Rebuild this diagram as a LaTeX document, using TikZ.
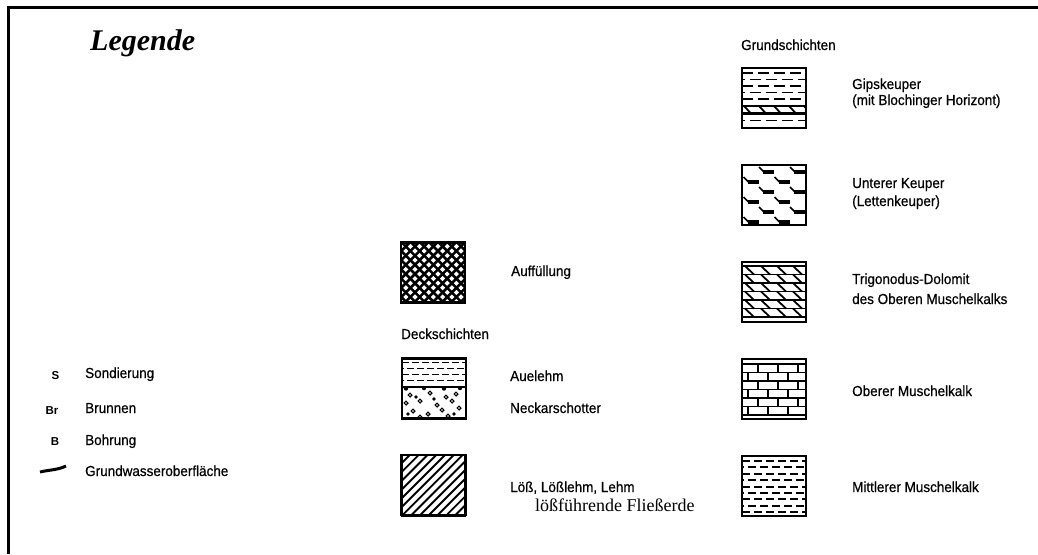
\documentclass[tikz,border=0pt]{standalone}
\usepackage{fontspec}
\setmainfont{Liberation Serif}
\setsansfont{Liberation Sans}
\newfontfamily\lblfont{Liberation Sans}[FakeBold=0.6, FakeStretch=0.93]
\begin{document}
\begin{tikzpicture}[x=1pt,y=-1pt,
  lbl/.style={font=\lblfont\fontsize{14.5}{16}\selectfont, anchor=base west, inner sep=0pt},
  symb/.style={font=\sffamily\bfseries\fontsize{11.5}{12}\selectfont, anchor=base, inner sep=0pt},
  legbox/.style={draw, line width=2.2pt, minimum width=64pt, minimum height=60pt, inner sep=0pt},
  hatch/.style={line width=2.6pt},
  thinl/.style={line width=1.5pt},
  midl/.style={line width=1.8pt},
  thickl/.style={line width=2.4pt}]
\useasboundingbox (0,0) rectangle (1038,554);
% frame
\draw[line width=3pt] (8,554) -- (8,7) -- (1038,7);

% title
\node[anchor=base west, inner sep=0pt, font=\fontsize{30}{34}\selectfont\bfseries\itshape] (title) at (90,50) {Legende};

% left list
\node[symb] (sS) at (55.5,379) {S};
\node[symb] (sBr) at (52,414) {Br};
\node[symb] (sB) at (55,445) {B};
\coordinate (gw1) at (40,472);
\coordinate (gw2) at (66,466);
\draw[line width=3pt] (gw1) .. controls (48,470) and (58,470) .. (gw2);
\node[lbl] (tS) at (85,378) {Sondierung};
\node[lbl] (tBr) at (85,413) {Brunnen};
\node[lbl] (tB) at (85,445) {Bohrung};
\node[lbl] (tGw) at (85,476) {Grundwasseroberfläche};

% middle column
\node[lbl] (tAuf) at (511,276) {Auffüllung};
\node[lbl] (tDeck) at (401,339) {Deckschichten};
\node[lbl] (tAue) at (510,381) {Auelehm};
\node[lbl] (tNeck) at (510,413) {Neckarschotter};
\node[lbl] (tLoess) at (510,492) {Löß, Lößlehm, Lehm};
\node[anchor=base west, inner sep=0pt, font=\fontsize{18}{20}\selectfont] (tFl) at (535,511) {lößführende Fließerde};

% right column
\node[lbl] (tGrund) at (741,50) {Grundschichten};
\node[lbl] (tGips1) at (852,89) {Gipskeuper};
\node[lbl] (tGips2) at (852,105) {(mit Blochinger Horizont)};
\node[lbl] (tUK1) at (852,188) {Unterer Keuper};
\node[lbl] (tUK2) at (852,206) {(Lettenkeuper)};
\node[lbl] (tTri1) at (852,284) {Trigonodus-Dolomit};
\node[lbl] (tTri2) at (852,304) {des Oberen Muschelkalks};
\node[lbl] (tOM) at (852,396) {Oberer Muschelkalk};
\node[lbl] (tMM) at (852,492) {Mittlerer Muschelkalk};

% ---------- Auffuellung: x 401-465, y 242-303
\node[legbox] (pA) at (433,272.5) {};
\begin{scope}
\clip (401,242) rectangle (465,303);
\foreach \i in {0,...,16} {
  \draw[hatch] ({401-64+\i*9.2},242) -- ++(64,64);
  \draw[hatch] ({401+\i*9.2},242) -- ++(-64,64);
}
\end{scope}

% ---------- Auelehm / Neckarschotter: x 402-466, y 358-419
\node[legbox] (pB) at (434,388.5) {};
\begin{scope}
\clip (402,358) rectangle (466,419);
\foreach \r in {0,...,3} {
  \foreach \c in {-1,...,6} {
    \pgfmathsetmacro{\xx}{402+\c*10+mod(\r,2)*5}
    \draw[thinl] (\xx,{362.5+\r*6}) -- ++(7,0);
  }
}
\draw[midl] (402,387) -- (466,387);
\foreach \p in {(406,388.5),(424,388),(444,388.5),(460,388)} \fill \p circle (2.2);
\foreach \p in {(410,395),(430,393),(446,397),(456,394),(406,403),(420,401),(437,405),(452,401),
                (413,411),(428,414),(442,410),(459,408),(420,417),(448,416)}
  \draw[line width=1.2pt] \p circle (1.9);
\foreach \p in {(416,397),(434,399),(408,414),(454,414)} \fill \p circle (1.8);
\end{scope}

% ---------- Loess: x 401-466, y 455-515
\node[legbox] (pC) at (433.5,485) {};
\begin{scope}
\clip (401,455) rectangle (466,515);
\foreach \i in {0,...,15} {
  \draw[line width=1.9pt] ({401-60+\i*8.8},515) -- ++(60,-60);
}
\end{scope}
\draw[line width=3pt] (401,515) -- (466,515);

% ---------- Gipskeuper: x 742-806, y 68-128
\node[legbox] (pD) at (774,98) {};
\begin{scope}
\clip (742,68) rectangle (806,128);
\foreach \r/\yy in {0/73,1/79.5,2/86,3/92.5,4/99,5/120.5} {
  \foreach \c in {-1,...,4} {
    \pgfmathsetmacro{\xx}{742+\c*16+mod(\r,2)*8}
    \draw[thinl] (\xx,\yy) -- ++(11,0);
  }
}
\draw[thickl] (742,106) -- (806,106);
\draw[thickl] (742,113.5) -- (806,113.5);
\foreach \c in {0,...,4} {
  \draw[midl] ({744+\c*15},106) -- ++(7,7.5);
}
\end{scope}

% ---------- Unterer Keuper: x 742-806, y 165-225
\node[legbox] (pE) at (774,195) {};
\begin{scope}
\clip (742,165) rectangle (806,225);
\foreach \r in {0,...,5} {
  \foreach \k in {-1,...,2} {
    \pgfmathsetmacro{\xx}{742+17+31*\k-15.5*mod(\r,2)}
    \pgfmathsetmacro{\yy}{167+10*\r}
    \draw[line width=1.5pt] (\xx,\yy) -- ++(5,5);
    \draw[line width=3.2pt] ({\xx+4},{\yy+5}) -- ++(11,0);
  }
}
\end{scope}

% ---------- Trigonodus-Dolomit: x 742-806, y 262-322
\node[legbox] (pF) at (774,292) {};
\begin{scope}
\clip (742,262) rectangle (806,322);
\foreach \k in {0,...,6} {
  \draw[midl] (742,{266+8.5*\k}) -- (806,{266+8.5*\k});
}
\foreach \k in {0,...,5} {
  \foreach \j in {0,...,3} {
    \draw[midl] ({745+16*\j},{266+8.5*\k}) -- ++(9,8.5);
  }
}
\end{scope}

% ---------- Oberer Muschelkalk: x 742-806, y 360-418
\node[legbox] (pG) at (774,389) {};
\begin{scope}
\clip (742,360) rectangle (806,418);
\foreach \k in {0,...,6} {
  \draw[midl] (742,{364+8.5*\k}) -- (806,{364+8.5*\k});
}
\foreach \k in {0,...,5} {
  \foreach \j in {-1,...,3} {
    \pgfmathsetmacro{\xx}{742+16+20*\j-10*mod(\k,2)}
    \draw[midl] (\xx,{364+8.5*\k}) -- ++(0,8.5);
  }
}
\end{scope}

% ---------- Mittlerer Muschelkalk: x 742-806, y 456-516
\node[legbox] (pH) at (774,486) {};
\begin{scope}
\clip (742,456) rectangle (806,516);
\foreach \r in {0,...,8} {
  \foreach \c in {-1,...,5} {
    \pgfmathsetmacro{\xx}{742+\c*12+mod(\r,2)*6}
    \draw[line width=1.9pt] (\xx,{461+6.4*\r}) -- ++(8,0);
  }
}
\end{scope}
\end{tikzpicture}
\end{document}
